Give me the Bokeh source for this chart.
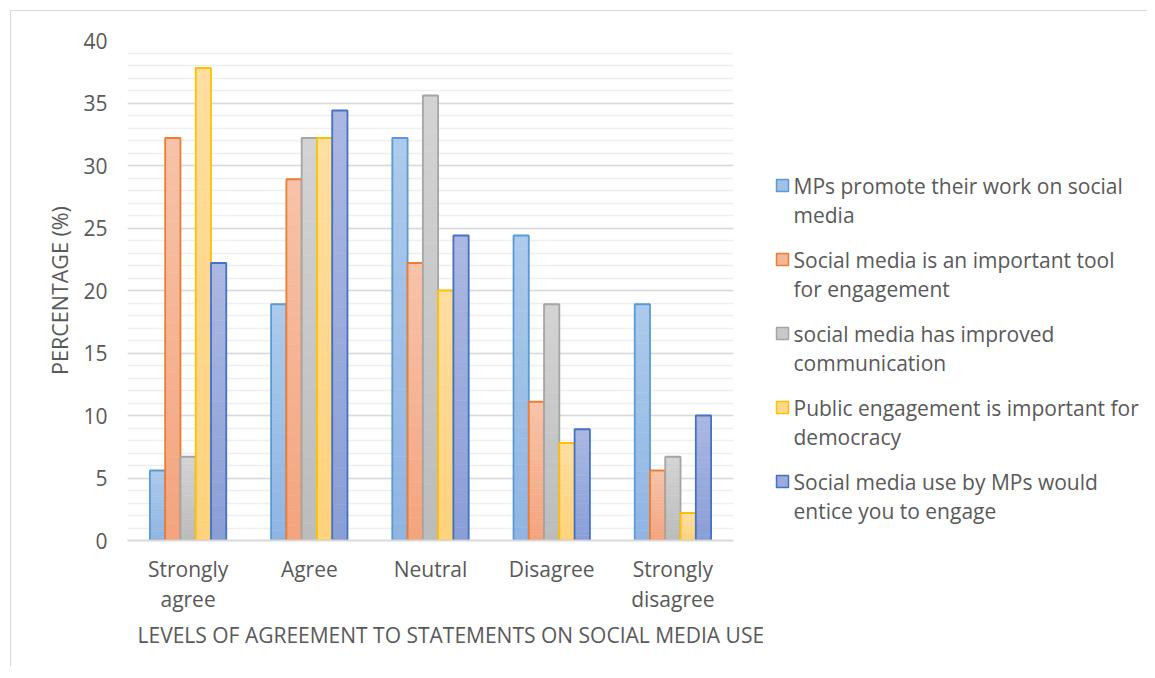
import numpy as np
from bokeh.plotting import figure
from bokeh.models import ColumnDataSource, FactorRange, Range1d, SingleIntervalTicker, Title
from bokeh.layouts import row
from bokeh.transform import dodge
from bokeh.core.properties import value
from bokeh.embed import file_html
from bokeh.resources import INLINE

categories = ["Strongly\nagree", "Agree", "Neutral", "Disagree", "Strongly\ndisagree"]

series_names = [
    "MPs promote their work on social\nmedia",
    "Social media is an important tool\nfor engagement",
    "social media has improved\ncommunication",
    "Public engagement is important for\ndemocracy",
    "Social media use by MPs would\nentice you to engage",
]
mps_promote = [5.6, 18.9, 32.2, 24.4, 18.9]
important_tool = [32.2, 28.9, 22.2, 11.1, 5.6]
improved_comm = [6.7, 32.2, 35.6, 18.9, 6.7]
public_engagement = [37.8, 32.2, 20.0, 7.8, 2.2]
entice_engage = [22.2, 34.4, 24.4, 8.9, 10.0]
series_values = [mps_promote, important_tool, improved_comm, public_engagement, entice_engage]

# gradient fill colours (bottom -> top) and outline colours
fill_bottom = ["#8FB5E3", "#F4A47E", "#BCBCBC", "#FFD27C", "#8A9ED7"]
fill_top = ["#ADCAEB", "#F7C3AA", "#D3D3D3", "#FFDEA0", "#ABB8E2"]
fill_mid = ["#A0C0E7", "#F5B597", "#C8C8C8", "#FFD88E", "#9AABDC"]
lines = ["#5B9BD5", "#ED7D31", "#A5A5A5", "#FFC000", "#4472C4"]

FONT = "Open Sans"
TXT = "#595959"
H = 655
NSEG = 24


def hex2rgb(h):
    return np.array([int(h[i:i + 2], 16) for i in (1, 3, 5)], dtype=float)


def rgb2hex(c):
    return "#%02x%02x%02x" % tuple(int(round(v)) for v in c)


p = figure(x_range=FactorRange(*categories, range_padding=0), y_range=Range1d(0, 40),
           width=752, height=H, output_backend="svg", toolbar_location=None,
           min_border_left=116, min_border_top=29, min_border_bottom=126, min_border_right=30)
p.outline_line_color = None
p.background_fill_color = "white"

p.xgrid.grid_line_color = None
p.ygrid.grid_line_color = "#D9D9D9"
p.ygrid.grid_line_width = 1.5
p.ygrid.minor_grid_line_color = "#EFEFEF"
p.ygrid.minor_grid_line_width = 1.5

width = 0.126
offsets = [-2 * width, -width, 0.0, width, 2 * width]
for i, vals in enumerate(series_values):
    c0, c1 = hex2rgb(fill_bottom[i]), hex2rgb(fill_top[i])
    xs, bots, tops, cols = [], [], [], []
    for cat, v in zip(categories, vals):
        for k in range(NSEG):
            f = (k + 0.5) / NSEG
            xs.append(cat)
            bots.append(v * k / NSEG)
            tops.append(v * (k + 1) / NSEG)
            cols.append(rgb2hex(c0 + (c1 - c0) * f))
    seg = ColumnDataSource({"x": xs, "bottom": bots, "top": tops, "color": cols})
    p.vbar(x=dodge("x", offsets[i], range=p.x_range), bottom="bottom", top="top", width=width,
           source=seg, fill_color="color", line_color="color", line_width=0.6)
    outline = ColumnDataSource({"x": categories, "top": vals})
    p.vbar(x=dodge("x", offsets[i], range=p.x_range), top="top", width=width,
           source=outline, fill_color=None, line_color=lines[i], line_width=1.8)

# axes
p.yaxis.ticker = SingleIntervalTicker(interval=5, num_minor_ticks=5)
p.yaxis.axis_line_color = None
p.yaxis.major_tick_line_color = None
p.yaxis.minor_tick_line_color = None
p.yaxis.major_label_text_font = FONT
p.yaxis.major_label_text_font_size = "21px"
p.yaxis.major_label_text_color = TXT
p.yaxis.major_label_standoff = 14
p.yaxis.axis_label = "PERCENTAGE (%)"
p.yaxis.axis_label_text_font = FONT
p.yaxis.axis_label_text_font_size = "21.5px"
p.yaxis.axis_label_text_font_style = "normal"
p.yaxis.axis_label_text_color = TXT
p.yaxis.axis_label_standoff = 6

p.xaxis.axis_line_color = "#D9D9D9"
p.xaxis.axis_line_width = 2
p.xaxis.major_tick_line_color = None
p.xaxis.minor_tick_line_color = None
p.xaxis.major_label_text_font = FONT
p.xaxis.major_label_text_font_size = "21px"
p.xaxis.major_label_text_color = TXT
p.xaxis.major_label_text_line_height = 1.1
p.xaxis.major_label_standoff = 8

xtitle = Title(text="LEVELS OF AGREEMENT TO STATEMENTS ON SOCIAL MEDIA USE", align="left",
               offset=10, text_font=FONT, text_font_size="21px", text_font_style="normal",
               text_color=TXT, standoff=4)
p.add_layout(xtitle, "below")

# legend panel (frame aligned with the chart frame: y measured from the frame top)
LW = 384
lg = figure(width=LW, height=H, x_range=Range1d(0, LW), y_range=Range1d(500, 0),
            output_backend="svg", toolbar_location=None,
            min_border_left=0, min_border_right=0, min_border_top=29, min_border_bottom=126)
lg.axis.visible = False
lg.grid.visible = False
lg.outline_line_color = None

first_lines = [s.split("\n")[0] for s in series_names]
second_lines = [s.split("\n")[1] for s in series_names]
idx = list(range(len(series_names)))
ly = [145 + 74 * i for i in idx]
ly2 = [y + 29 for y in ly]
leg = ColumnDataSource({"y": ly, "y2": ly2, "t1": first_lines, "t2": second_lines,
                        "fill": fill_mid, "line": lines})
lg.rect(x=19, y="y", width=12, height=12, fill_color="fill", line_color="line",
        line_width=1.5, source=leg)
for col, ycol in (("t1", "y"), ("t2", "y2")):
    lg.text(x=30, y=ycol, text=col, source=leg, text_font=value(FONT), text_font_size="21px",
            text_color=TXT, text_baseline="middle", text_align="left")

layout = row(p, lg)
layout.styles = {"border-left": "1px solid #D9D9D9", "border-top": "1px solid #D9D9D9",
                 "margin-left": "10px", "margin-top": "10px"}

open("out.html", "w").write(file_html(layout, INLINE))
